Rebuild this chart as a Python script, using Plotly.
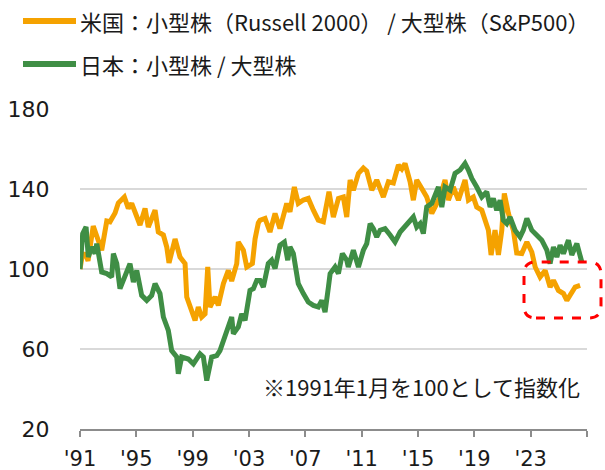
import plotly.graph_objects as go

# ---------------- data ----------------
us_year = [1991.00, 1991.14, 1991.36, 1991.57, 1991.94, 1992.19, 1992.54, 1992.90, 1993.13, 1993.49,
           1993.72, 1994.15, 1994.43, 1994.67, 1995.03, 1995.26, 1995.62, 1995.85, 1996.33, 1996.56,
           1996.92, 1997.16, 1997.32, 1997.75, 1998.10, 1998.46, 1998.58, 1998.81, 1999.17, 1999.40,
           1999.64, 1999.88, 2000.07, 2000.23, 2000.59, 2000.82, 2001.18, 2001.53, 2001.77, 2002.13,
           2002.24, 2002.60, 2002.84, 2003.24, 2003.43, 2003.66, 2003.78, 2004.14, 2004.49, 2004.85,
           2005.20, 2005.68, 2005.91, 2006.22, 2006.50, 2006.86, 2007.21, 2007.57, 2007.92, 2008.28,
           2008.52, 2008.68, 2008.99, 2009.35, 2009.70, 2009.94, 2010.18, 2010.41, 2010.77, 2011.12,
           2011.36, 2011.72, 2012.07, 2012.54, 2012.90, 2013.25, 2013.61, 2013.85, 2014.08, 2014.44,
           2014.67, 2014.91, 2015.27, 2015.62, 2015.98, 2016.33, 2016.57, 2016.92, 2017.16, 2017.51,
           2017.87, 2018.34, 2018.58, 2018.93, 2019.17, 2019.53, 2019.76, 2020.00, 2020.19, 2020.47,
           2020.71, 2020.95, 2021.13, 2021.42, 2021.77, 2022.01, 2022.37, 2022.73, 2023.08, 2023.32,
           2023.67, 2024.03, 2024.38, 2024.62, 2024.97, 2025.33, 2025.57, 2025.80, 2026.16, 2026.51]
us_ratio = [100, 106, 108, 104, 121.5, 116, 109.4, 124, 123.6, 128,
            133, 136, 130.3, 132.8, 127, 122, 130.3, 121, 129.4, 118.5,
            117, 111, 103, 115, 106, 102.7, 86, 81, 74.3, 81,
            76, 77.6, 101, 81, 86, 81.8, 92.7, 99.3, 94, 102.7,
            113.5, 109.4, 101, 102.7, 115, 123, 124.4, 125.3, 118.5, 127.8,
            120.2, 132.8, 128.6, 141, 132.8, 134.5, 135.3, 129.4, 124.4, 123.6,
            131, 138.6, 126, 135.3, 136, 126, 144.5, 139.4, 147.8, 150.5,
            149, 139.4, 144.5, 136, 143.6, 143, 152, 150, 152.8, 143.6,
            134.4, 144.5, 140.3, 136, 127.8, 132.8, 136, 144.5, 134.4, 141,
            134.4, 144.5, 134.4, 136, 131, 129.4, 124.4, 119.4, 107, 119.4,
            107, 119.4, 137.8, 127.8, 119.4, 108, 107.7, 113.5, 108.5, 101,
            96, 99.3, 91, 94.3, 89.3, 87.7, 84.3, 86.8, 91, 91.8]

jp_year = [1991.00, 1991.19, 1991.43, 1991.59, 1991.83, 1992.07, 1992.19, 1992.54, 1992.90, 1993.25,
           1993.37, 1993.61, 1993.84, 1994.20, 1994.55, 1994.79, 1995.03, 1995.38, 1995.74, 1996.09,
           1996.33, 1996.68, 1996.92, 1997.27, 1997.51, 1997.87, 1997.98, 1998.22, 1998.69, 1999.05,
           1999.52, 1999.76, 2000.00, 2000.35, 2000.71, 2000.94, 2001.18, 2001.53, 2001.77, 2001.89,
           2002.24, 2002.48, 2002.72, 2003.07, 2003.31, 2003.55, 2003.78, 2004.02, 2004.37, 2004.61,
           2004.85, 2005.20, 2005.51, 2005.75, 2005.91, 2006.15, 2006.50, 2006.86, 2007.21, 2007.57,
           2007.92, 2008.17, 2008.40, 2008.64, 2008.76, 2009.11, 2009.35, 2009.63, 2009.94, 2010.05,
           2010.41, 2010.77, 2011.12, 2011.36, 2011.60, 2011.83, 2012.07, 2012.31, 2012.66, 2013.02,
           2013.37, 2013.73, 2014.08, 2014.44, 2014.67, 2014.91, 2015.15, 2015.38, 2015.62, 2015.98,
           2016.21, 2016.45, 2016.69, 2016.92, 2017.28, 2017.63, 2017.99, 2018.34, 2018.58, 2018.82,
           2019.17, 2019.53, 2019.88, 2020.12, 2020.35, 2020.59, 2020.83, 2021.06, 2021.30, 2021.54,
           2021.89, 2022.25, 2022.48, 2022.73, 2023.08, 2023.44, 2023.79, 2024.15, 2024.38, 2024.62,
           2024.86, 2025.09, 2025.33, 2025.68, 2025.92, 2026.28, 2026.63]
jp_ratio = [100, 117.7, 121, 106, 111, 107.7, 112.7, 98.5, 97.7, 96,
            107.7, 102.7, 90.2, 96, 102.7, 93.5, 99.3, 86.8, 84.3, 86.8,
            92.7, 87.7, 76, 69.3, 59.2, 56, 47.6, 56, 55, 52.6,
            57.6, 56, 44.2, 56, 56.7, 59.2, 64.3, 72.6, 76, 67.6,
            71, 77.6, 74.3, 89.3, 90.2, 94.3, 94.3, 91, 102.7, 104.4,
            100.2, 111.9, 113.5, 104.4, 111, 107.7, 92.7, 87.7, 83.5, 81.8,
            81, 84.3, 78.4, 91, 97.7, 101, 97.7, 107.7, 104.4, 101,
            109.4, 101, 109.4, 112.7, 122.7, 120.2, 116, 119.4, 120.2, 117,
            113.5, 118.5, 121, 124.4, 126, 121, 122.7, 117.7, 131, 132.8,
            137.8, 141, 131, 141, 139.4, 147.8, 149.5, 152.8, 149.5, 145.3,
            141, 136, 138.6, 131, 135.3, 129.4, 134.4, 124.4, 122.7, 126,
            119.4, 116, 119.4, 125.3, 119.4, 117, 114.4, 109.4, 102.7, 111,
            106, 111.9, 107.7, 114.4, 107, 112.7, 103.5]

us_name = "米国：小型株（Russell 2000） / 大型株（S&P500）"
jp_name = "日本：小型株 / 大型株"
note_text = "※1991年1月を100として指数化"

x_tick_vals = [1991, 1995, 1999, 2003, 2007, 2011, 2015, 2019, 2023, 2027]
x_tick_text = ["'91", "'95", "'99", "'03", "'07", "'11", "'15", "'19", "'23", ""]
y_tick_vals = [20, 60, 100, 140, 180]

# ---------------- styling ----------------
ORANGE = "#F5A200"
GREEN = "#3F8E45"
W, H = 605, 470
L, R, T, B = 80, 18, 109, 41
PW, PH = W - L - R, H - T - B
JP_FONT = "Noto Sans CJK JP"
NUM_FONT = "DejaVu Sans"
TXT = "#1a1a1a"


def px(x):
    return (x - L) / PW


def py(y):
    return (H - B - y) / PH


fig = go.Figure()
fig.add_trace(go.Scatter(x=us_year, y=us_ratio, mode="lines", name=us_name,
                         line=dict(color=ORANGE, width=5), showlegend=False))
fig.add_trace(go.Scatter(x=jp_year, y=jp_ratio, mode="lines", name=jp_name,
                         line=dict(color=GREEN, width=5), showlegend=False))

shapes = []
annotations = []
# manual legend (long line samples as in the reference)
for row_y, color, label in [(21, ORANGE, us_name), (64, GREEN, jp_name)]:
    shapes.append(dict(type="line", xref="paper", yref="paper",
                       x0=px(23), x1=px(76), y0=py(row_y), y1=py(row_y),
                       line=dict(color=color, width=6)))
    annotations.append(dict(xref="paper", yref="paper", x=px(78), y=py(row_y),
                            xanchor="left", yanchor="middle", text=label, showarrow=False,
                            font=dict(family=JP_FONT, size=22, color=TXT)))

# note
annotations.append(dict(xref="paper", yref="paper", x=px(582), y=py(386),
                        xanchor="right", yanchor="middle", text=note_text, showarrow=False,
                        font=dict(family=JP_FONT, size=22, color=TXT)))

# red dashed rounded highlight box
bx0, bx1, by0, by1 = px(524), px(601), py(318), py(262)
rx, ry = 12 / PW, 12 / PH
path = (f"M{bx0 + rx},{by0} L{bx1 - rx},{by0} Q{bx1},{by0} {bx1},{by0 + ry} "
        f"L{bx1},{by1 - ry} Q{bx1},{by1} {bx1 - rx},{by1} "
        f"L{bx0 + rx},{by1} Q{bx0},{by1} {bx0},{by1 - ry} "
        f"L{bx0},{by0 + ry} Q{bx0},{by0} {bx0 + rx},{by0} Z")
shapes.append(dict(type="path", xref="paper", yref="paper", path=path,
                   line=dict(color="#FF0000", width=3, dash="dash")))

fig.update_layout(
    width=W, height=H,
    margin=dict(l=L, r=R, t=T, b=B, pad=0, autoexpand=False),
    paper_bgcolor="white", plot_bgcolor="white",
    shapes=shapes, annotations=annotations,
    xaxis=dict(range=[1991, 2027], tickvals=x_tick_vals, ticktext=x_tick_text,
               automargin=False,
               showgrid=False, zeroline=False, showline=True, linecolor="#8c8c8c", linewidth=1.5,
               ticks="outside", ticklen=6, tickwidth=1.5, tickcolor="#8c8c8c",
               tickfont=dict(family=NUM_FONT, size=21, color=TXT),
               ticklabelstandoff=4),
    yaxis=dict(range=[20, 180], tickvals=y_tick_vals, automargin=False,
               showgrid=True, gridcolor="#d9d9d9", gridwidth=1.5, zeroline=False, showline=False,
               ticks="outside", ticklen=25, tickcolor="rgba(0,0,0,0)",
               tickfont=dict(family=NUM_FONT, size=22, color=TXT)),
)

fig.write_html("out.html", config={"displayModeBar": False},
               post_script="document.body.style.margin='0';")
